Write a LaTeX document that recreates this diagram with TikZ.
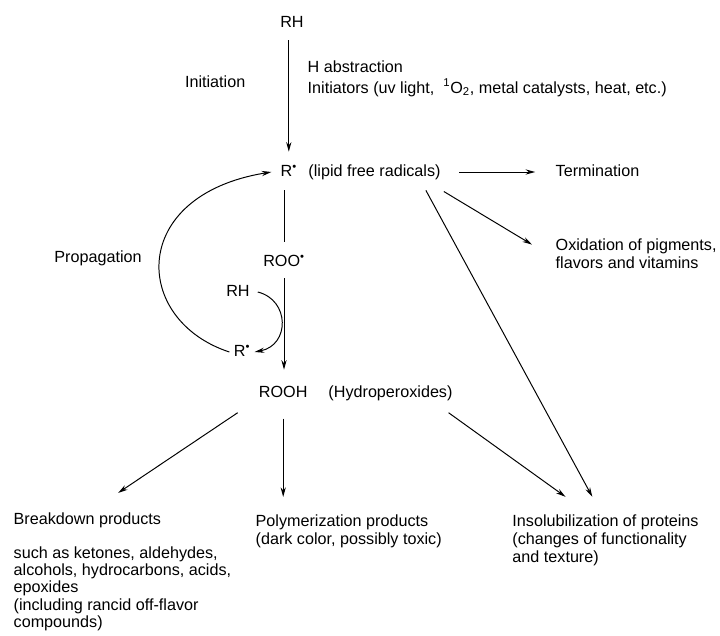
\documentclass[tikz,border=0pt]{standalone}
\usepackage{fontspec}
\setmainfont{Liberation Sans}
\usetikzlibrary{arrows.meta}
\newcommand{\rdot}{\textsuperscript{\textbullet}}

\begin{document}
\begin{tikzpicture}[every node/.style={font=\fontsize{11.5}{12.8}\selectfont},
  sp/.style={inner sep=0pt, text height=8pt, text depth=2pt},
  mp/.style={inner sep=0pt, align=left},
  line width=0.7pt, >={Stealth[length=2.4mm,width=1.3mm]}]

\useasboundingbox (0,0) rectangle (18,-15.9);

% main chain
\node[sp] (rh) at (7.3,-0.58) {RH};
\node[sp] (rad) at (7.22,-4.3) {R\rdot};
\node[sp, anchor=west] (lipid) at (7.7,-4.3) {(lipid free radicals)};
\node[sp] (roo) at (7.1,-6.55) {ROO\rdot};
\node[sp] (rooh) at (7.08,-9.83) {ROOH};
\node[sp, anchor=west] (hydro) at (8.2,-9.83) {(Hydroperoxides)};

% labels
\node[sp] (init) at (5.38,-2.08) {Initiation};
\node[sp, anchor=west] (habs) at (7.68,-1.7) {H abstraction};
\node[sp, anchor=west] (inits) at (7.68,-2.22) {Initiators (uv light, \ \textsuperscript{1}O\textsubscript{2}, metal catalysts, heat, etc.)};
\node[sp] (prop) at (2.45,-6.45) {Propagation};
\node[sp] (rh2) at (5.95,-7.3) {RH};
\node[sp] (rad2) at (6.05,-8.8) {R\rdot};

% products
\node[sp, anchor=west] (term) at (13.88,-4.3) {Termination};
\node[mp, anchor=west] (oxid) at (13.88,-6.35) {Oxidation of pigments,\\flavors and vitamins};
\node[sp, anchor=west] (bd) at (0.33,-13.0) {Breakdown products};
\node[mp, anchor=west, font=\fontsize{11.5}{12.2}\selectfont] (bdsub) at (0.33,-14.72) {such as ketones, aldehydes,\\alcohols, hydrocarbons, acids,\\epoxides\\(including rancid off-flavor\\compounds)};
\node[mp, anchor=west] (poly) at (6.38,-13.28) {Polymerization products\\(dark color, possibly toxic)};
\node[mp, anchor=west] (insol) at (12.8,-13.5) {Insolubilization of proteins\\(changes of functionality\\and texture)};

% connectors
\draw[->, shorten <=0.24cm, shorten >=0.32cm] (rad.north |- rh.south) -- (rad.north);
\draw[shorten <=0.27cm, shorten >=0.32cm] (roo.north |- rad.south) -- (roo.north);
\draw[->, shorten <=0.22cm, shorten >=0.4cm] (roo.south) -- (roo.south |- rooh.north);
\draw[->, shorten <=0.45cm, shorten >=0.5cm] (lipid.east) -- (term.west);
\draw[->] ([xshift=0.07cm,yshift=-0.3cm]lipid.south east) -- ([xshift=-0.58cm,yshift=-0.15cm]oxid.north west);
\draw[->] ([xshift=-0.38cm,yshift=-0.27cm]lipid.south east) -- ([xshift=-0.33cm,yshift=0.43cm]insol.north);
\draw[->] ([xshift=-0.52cm,yshift=-0.3cm]rooh.south west) -- ([xshift=0.77cm,yshift=0.49cm]bd.north);
\draw[->, shorten <=0.45cm, shorten >=0.43cm] (rooh.south) -- (rooh.south |- poly.north);
\draw[->] ([xshift=-0.11cm,yshift=-0.3cm]hydro.south east) -- ([xshift=-1.0cm,yshift=0.43cm]insol.north);

% propagation loop
\draw[->] ([xshift=0.19cm]rh2.east) .. controls (7.25,-7.5) and (7.25,-8.63) .. ([xshift=0.1cm]rad2.east);
\draw[->] ([xshift=-0.1cm]rad2.west) .. controls (3.3,-8.0) and (3.2,-4.88) .. ([xshift=-0.22cm]rad.west);

\end{tikzpicture}
\end{document}
